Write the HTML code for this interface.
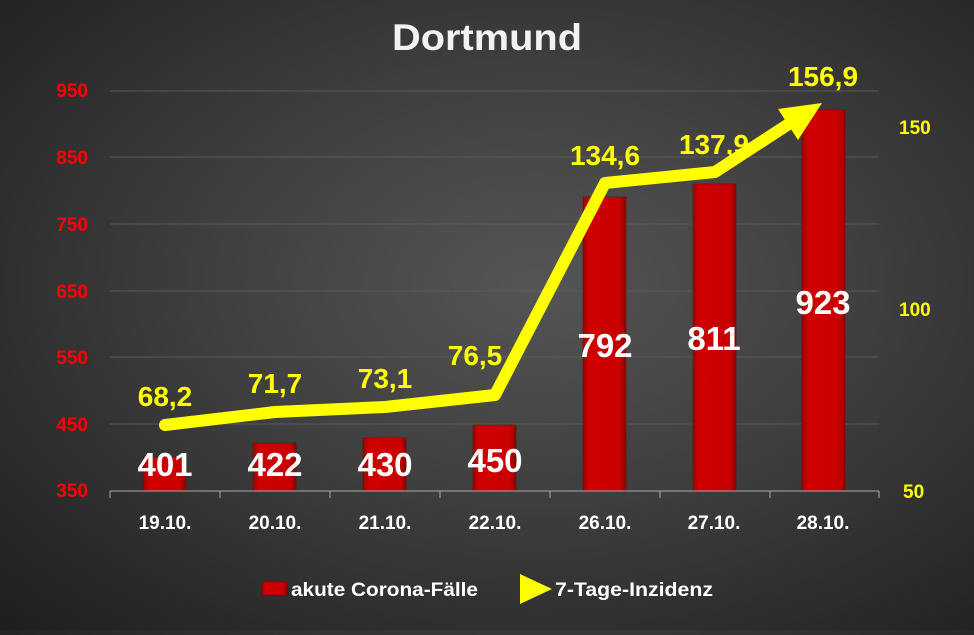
<!DOCTYPE html>
<html><head><meta charset="utf-8"><style>
html,body{margin:0;padding:0}
body{width:974px;height:630px;overflow:hidden;background:radial-gradient(ellipse at 55% 45%,#555 0%,#3e3e3e 45%,#1e1e1e 100%);font-family:"Liberation Sans",sans-serif}
</style></head><body>
<svg width="974" height="630" xmlns="http://www.w3.org/2000/svg">
<defs>
<linearGradient id="bar" x1="0" x2="1" y1="0" y2="0">
<stop offset="0" stop-color="#a00000"/><stop offset="0.15" stop-color="#d00000"/><stop offset="0.85" stop-color="#c80000"/><stop offset="1" stop-color="#900000"/>
</linearGradient>
</defs>
<text x="487" y="50" text-anchor="middle" font-size="37" font-weight="bold" fill="#f2f2f2" textLength="190" lengthAdjust="spacingAndGlyphs">Dortmund</text>
<g stroke="#5a5a5a" stroke-width="1">
<line x1="110" x2="879" y1="91" y2="91"/><line x1="110" x2="879" y1="157" y2="157"/>
<line x1="110" x2="879" y1="224" y2="224"/><line x1="110" x2="879" y1="291" y2="291"/>
<line x1="110" x2="879" y1="357" y2="357"/><line x1="110" x2="879" y1="424" y2="424"/>
</g>
<g fill="#ff0000" font-size="19" font-weight="bold" text-anchor="end">
<text x="88" y="97">950</text><text x="88" y="164">850</text><text x="88" y="231">750</text>
<text x="88" y="298">650</text><text x="88" y="364">550</text><text x="88" y="431">450</text><text x="88" y="497">350</text>
</g>
<g fill="#ffff00" font-size="19" font-weight="bold">
<text x="899" y="134">150</text><text x="899" y="316">100</text><text x="903" y="498">50</text>
</g>
<g fill="url(#bar)" stroke="#700000" stroke-width="0.5">
<rect x="143" y="457" width="43" height="34"/>
<rect x="253" y="443" width="43" height="48"/>
<rect x="363" y="438" width="43" height="53"/>
<rect x="473" y="425" width="43" height="66"/>
<rect x="583" y="197" width="43" height="294"/>
<rect x="693" y="184" width="43" height="307"/>
<rect x="802" y="110" width="43" height="381"/>
</g>
<g stroke="#aaa" stroke-width="1">
<line x1="110" x2="879" y1="491" y2="491"/>
<line x1="110" x2="110" y1="491" y2="498"/><line x1="220" x2="220" y1="491" y2="498"/>
<line x1="330" x2="330" y1="491" y2="498"/><line x1="440" x2="440" y1="491" y2="498"/>
<line x1="550" x2="550" y1="491" y2="498"/><line x1="660" x2="660" y1="491" y2="498"/>
<line x1="770" x2="770" y1="491" y2="498"/><line x1="879" x2="879" y1="491" y2="498"/>
</g>
<g fill="#fff" font-size="33" font-weight="bold" text-anchor="middle">
<text x="165" y="476">401</text><text x="275" y="476">422</text><text x="385" y="476">430</text>
<text x="495" y="472">450</text><text x="605" y="357">792</text><text x="714" y="350">811</text><text x="823" y="314">923</text>
</g>
<polyline points="165,425 275,412 385,407 495,395 605,183 715,172 788,124.5" fill="none" stroke="#ffff00" stroke-width="12" stroke-linejoin="round" stroke-linecap="round"/>
<polygon points="822,103 798,140 778,109" fill="#ffff00"/>
<g fill="#ffff00" font-size="28" font-weight="bold" text-anchor="middle">
<text x="165" y="406">68,2</text><text x="275" y="393">71,7</text><text x="385" y="388">73,1</text>
<text x="475" y="365">76,5</text><text x="605" y="165">134,6</text><text x="714" y="154">137,9</text><text x="823" y="86">156,9</text>
</g>
<g fill="#fff" font-size="19" font-weight="bold" text-anchor="middle">
<text x="165" y="529">19.10.</text><text x="275" y="529">20.10.</text><text x="385" y="529">21.10.</text>
<text x="495" y="529">22.10.</text><text x="605" y="529">26.10.</text><text x="714" y="529">27.10.</text><text x="823" y="529">28.10.</text>
</g>
<rect x="262" y="582" width="25" height="13" fill="url(#bar)" stroke="#700000" stroke-width="0.5"/>
<text x="291" y="596" fill="#fff" font-size="19" font-weight="bold" textLength="187" lengthAdjust="spacingAndGlyphs">akute Corona-Fälle</text>
<polygon points="520,574 552,589 520,604" fill="#ffff00"/>
<text x="555" y="596" fill="#fff" font-size="19" font-weight="bold" textLength="158" lengthAdjust="spacingAndGlyphs">7-Tage-Inzidenz</text>
</svg>
</body></html>
